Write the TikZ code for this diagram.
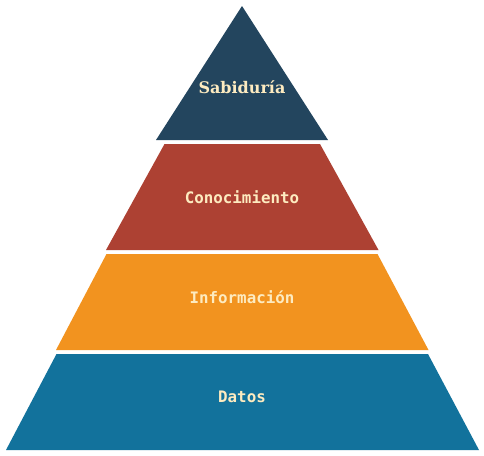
\documentclass[tikz,border=0pt]{standalone}
\usepackage{fontspec}
\newfontfamily\labelmono{DejaVu Sans Mono}
\newfontfamily\labelserif{DejaVu Serif}
\definecolor{wisdom}{HTML}{23455E}
\definecolor{knowledge}{HTML}{AD4133}
\definecolor{information}{HTML}{F2931F}
\definecolor{data}{HTML}{12729C}
\definecolor{labeltext}{HTML}{FDEBC0}
\begin{document}
\begin{tikzpicture}[x=1pt,y=-1pt,
  layer/.style={fill=#1,draw=none},
  monolabel/.style={text=labeltext,font=\labelmono\bfseries\fontsize{15.8}{18}\selectfont},
  seriflabel/.style={text=labeltext,font=\labelserif\bfseries\fontsize{16}{19}\selectfont}]
  \useasboundingbox[fill=white] (0,0) rectangle (484,455);
  % pyramid layers, top to bottom
  \fill[layer=wisdom] (242,6) -- (328,140) -- (156,140) -- cycle;
  \fill[layer=knowledge] (164.5,144) -- (320,144) -- (378.5,250) -- (106,250) -- cycle;
  \fill[layer=information] (106.5,254) -- (377.5,254) -- (428.5,350) -- (56,350) -- cycle;
  \fill[layer=data] (56.5,354) -- (428,354) -- (479,450) -- (6,450) -- cycle;
  % labels
  \node[seriflabel] (sabiduria) at (242,87) {Sabiduría};
  \node[monolabel] (conocimiento) at (242,197) {Conocimiento};
  \node[monolabel] (informacion) at (242,297) {Información};
  \node[monolabel] (datos) at (242,397) {Datos};
\end{tikzpicture}
\end{document}
